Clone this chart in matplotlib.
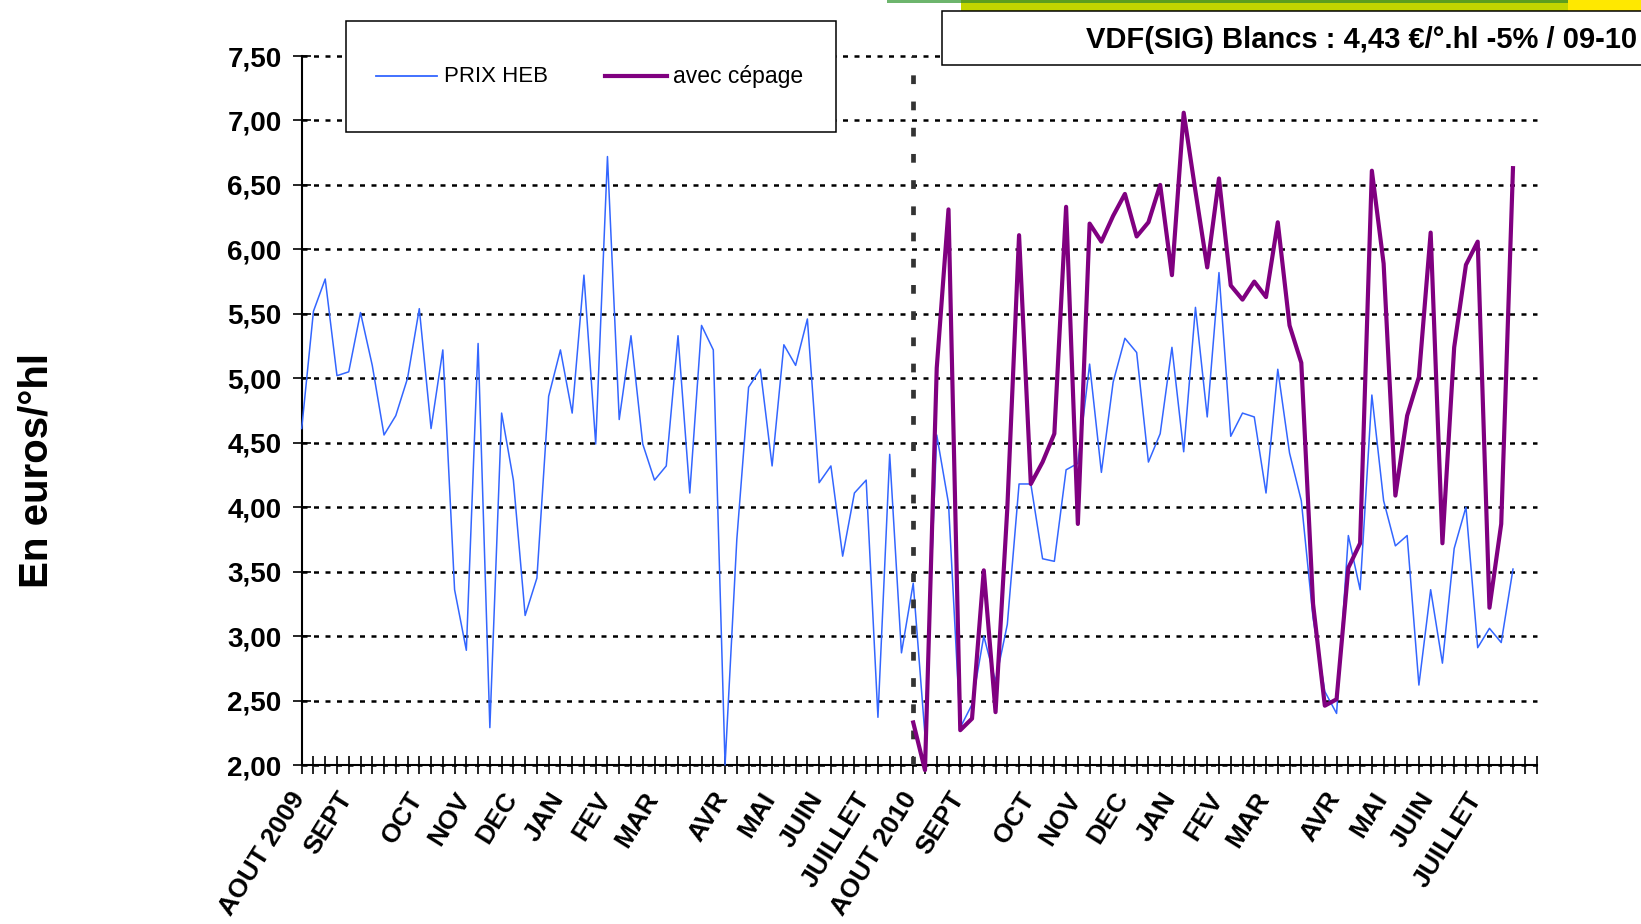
import numpy as np
import matplotlib
matplotlib.use("Agg")
import matplotlib.pyplot as plt
import matplotlib.patches as mpatches
from matplotlib.lines import Line2D
import matplotlib.transforms as mtransforms

plt.rcParams['font.family'] = ['Liberation Sans', 'DejaVu Sans']

W, H = 1641, 924

# weekly prices, aug 2009 -> aug 2011
prix_heb = [
    4.61, 5.52, 5.77, 5.02, 5.05, 5.51, 5.10, 4.56, 4.71, 5.00,
    5.54, 4.61, 5.22, 3.36, 2.89, 5.27, 2.29, 4.73, 4.21, 3.16,
    3.45, 4.86, 5.22, 4.73, 5.80, 4.49, 6.72, 4.68, 5.33, 4.49,
    4.21, 4.32, 5.33, 4.11, 5.41, 5.22, 2.00, 3.75, 4.93, 5.07,
    4.32, 5.26, 5.10, 5.46, 4.19, 4.32, 3.62, 4.11, 4.21, 2.37,
    4.41, 2.87, 3.41, 2.23, 4.56, 4.03, 2.29, 2.47, 3.00, 2.65,
    3.09, 4.18, 4.18, 3.60, 3.58, 4.29, 4.34, 5.11, 4.27, 4.97,
    5.31, 5.20, 4.35, 4.57, 5.24, 4.43, 5.55, 4.70, 5.82, 4.55,
    4.73, 4.70, 4.11, 5.07, 4.42, 4.05, 3.14, 2.57, 2.40, 3.78,
    3.36, 4.87, 4.05, 3.70, 3.78, 2.62, 3.36, 2.79, 3.68, 4.00,
    2.91, 3.06, 2.95, 3.52,
]

avec_cepage = [
    2.33, 1.96, 5.08, 6.31, 2.27, 2.36, 3.51, 2.41, 3.99, 6.11,
    4.18, 4.35, 4.57, 6.33, 3.87, 6.20, 6.06, 6.26, 6.43, 6.10,
    6.21, 6.50, 5.80, 7.06, 6.45, 5.86, 6.55, 5.72, 5.61, 5.75,
    5.63, 6.21, 5.41, 5.12, 3.25, 2.46, 2.51, 3.53, 3.72, 6.61,
    5.89, 4.09, 4.71, 5.01, 6.13, 3.72, 5.24, 5.88, 6.06, 3.22,
    3.87, 6.63,
]
cepage_start = 52   # first week of the "avec cépage" series (AOUT 2010)
n_weeks = 106

month_names = ["AOUT 2009", "SEPT", "OCT", "NOV", "DEC", "JAN", "FEV", "MAR",
               "AVR", "MAI", "JUIN", "JUILLET",
               "AOUT 2010", "SEPT", "OCT", "NOV", "DEC", "JAN", "FEV", "MAR",
               "AVR", "MAI", "JUIN", "JUILLET"]
month_weeks = [0, 4, 10, 14, 18, 22, 26, 30, 36, 40, 44, 48,
               52, 56, 62, 66, 70, 74, 78, 82, 88, 92, 96, 100]

y_ticks = [2.0, 2.5, 3.0, 3.5, 4.0, 4.5, 5.0, 5.5, 6.0, 6.5, 7.0, 7.5]

week_labels = [""] * n_weeks
for name, wk in zip(month_names, month_weeks):
    week_labels[wk] = name


def fx(x):
    return x / W


def fy(y):
    return 1 - y / H


BLUE = "#3366FF"
PURPLE = "#800080"

fig = plt.figure(figsize=(W/100, H/100), dpi=100)
ax = fig.add_axes([fx(301.7), fy(765), (1536.5-301.7)/W, (765-56)/H])

ax.plot(np.arange(len(prix_heb)), prix_heb, color=BLUE, lw=1.1, zorder=3, clip_on=False)
ax.axvline(cepage_start, color="#333333", lw=3.4, ls=(0, (1.85, 3.7)), zorder=4)
x2 = np.arange(cepage_start, cepage_start+len(avec_cepage))
ax.plot(x2, avec_cepage, color=PURPLE, lw=3.0, zorder=5, clip_on=False)

ax.set_xlim(0, n_weeks-1)
ax.set_ylim(2, 7.5)
ax.set_yticks(y_ticks)
ax.set_yticklabels([f"{v:.2f}".replace(".", ",") for v in y_ticks],
                   fontsize=20, fontweight="bold")
ax.set_xticks(np.arange(n_weeks))
ax.set_xticklabels(week_labels, rotation=58, ha="right", va="top",
                   rotation_mode="anchor", fontsize=19, fontweight="bold")

ax.tick_params(direction="inout", length=13, width=1.2, color="black")
ax.tick_params(axis="y", pad=8)
ax.tick_params(axis="x", pad=10)
for s in ["top", "right"]:
    ax.spines[s].set_visible(False)
for s in ["left", "bottom"]:
    ax.spines[s].set_linewidth(1.5)

# nudge month labels left so their ends sit on the ticks like the original
shift = mtransforms.ScaledTranslation(-12/100, 0, fig.dpi_scale_trans)
for lab in ax.get_xticklabels():
    lab.set_transform(lab.get_transform() + shift)

ax.yaxis.grid(True, color="black", lw=1.8, ls=(0, (2, 2.6)))
ax.set_axisbelow(True)
for gl in ax.get_ygridlines():
    gl.set_clip_on(False)

fig.text(fx(37), fy(470), "En euros/°hl", rotation=90, fontsize=29,
         fontweight="bold", ha="center", va="center")

# legend box
fig.add_artist(mpatches.Rectangle((fx(346), fy(132)), (836-346)/W, (132-21)/H,
                                  transform=fig.transFigure, facecolor="white",
                                  edgecolor="black", lw=1.1, zorder=10))
fig.add_artist(Line2D([fx(376), fx(437)], [fy(76), fy(76)], color=BLUE, lw=1.3,
                      transform=fig.transFigure, zorder=11))
fig.add_artist(Line2D([fx(605), fx(667)], [fy(76), fy(76)], color=PURPLE, lw=3.0,
                      transform=fig.transFigure, zorder=11))
fig.text(fx(444), fy(77), "PRIX HEB", fontsize=16, ha="left", va="center", zorder=11)
fig.text(fx(673), fy(77), "avec cépage", fontsize=16.5, ha="left", va="center", zorder=11)

# top colour bars + title box
fig.add_artist(mpatches.Rectangle((fx(887), fy(3)), (961-887)/W, 3/H,
                                  transform=fig.transFigure, color="#6DB56D", lw=0, zorder=8))
fig.add_artist(mpatches.Rectangle((fx(961), fy(13)), (1568-961)/W, 13/H,
                                  transform=fig.transFigure, color="#C3D500", lw=0, zorder=8))
fig.add_artist(mpatches.Rectangle((fx(961), fy(3)), (1568-961)/W, 3/H,
                                  transform=fig.transFigure, color="#5E9E1E", lw=0, zorder=8))
fig.add_artist(mpatches.Rectangle((fx(1568), fy(13)), (W-1568)/W, 13/H,
                                  transform=fig.transFigure, color="#FFE800", lw=0, zorder=8))
fig.add_artist(mpatches.Rectangle((fx(942), fy(65)), (1700-942)/W, (65-11)/H,
                                  transform=fig.transFigure, facecolor="white",
                                  edgecolor="black", lw=1.1, zorder=9))
fig.text(fx(1637), fy(40), "VDF(SIG) Blancs : 4,43 €/°.hl -5% / 09-10",
         ha="right", va="center", fontsize=21, fontweight="bold", zorder=12)

fig.savefig("out.png", dpi=100)
